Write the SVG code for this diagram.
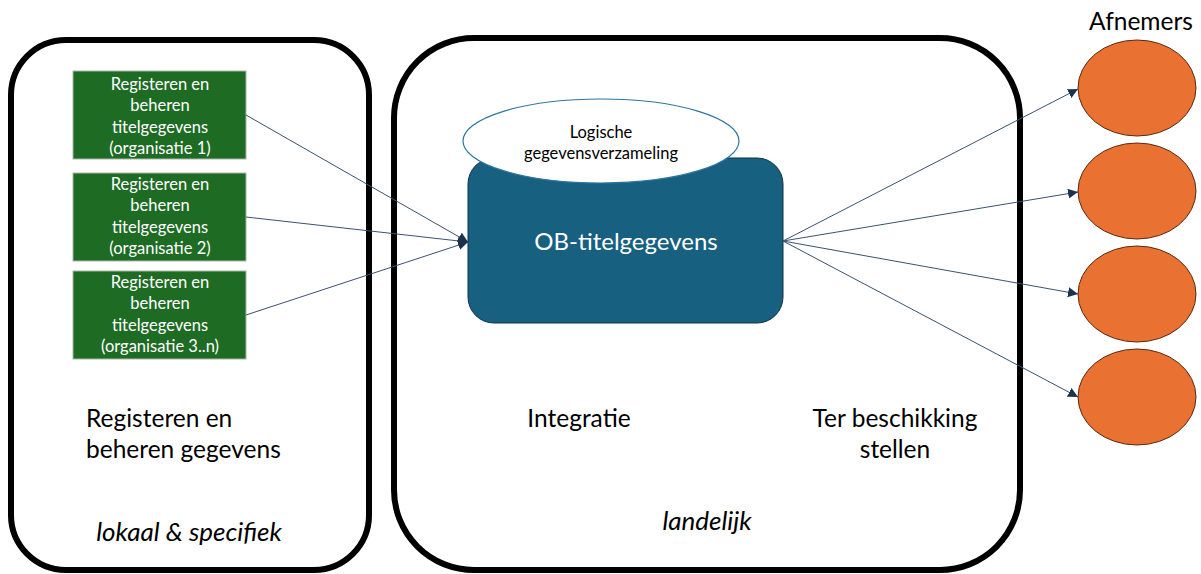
<svg xmlns="http://www.w3.org/2000/svg" width="1201" height="574" viewBox="0 0 1201 574">
<style>
.cont{fill:#fff;stroke:#000;stroke-width:6}
.green{fill:#1e6b24;stroke:#a9b8a6;stroke-width:1}
.gt{font-family:Lato,"Open Sans",sans-serif;font-size:16.5px;fill:#fff;text-anchor:middle}
.lbl{font-family:Lato,"Open Sans",sans-serif;font-size:24.5px;fill:#000}
.it{font-style:italic;font-size:26px}
.conn{stroke:#3b5170;stroke-width:1;fill:none}
.cons{fill:#e97132;stroke:#5a2a10;stroke-width:1}
</style>
<defs>
<marker id="arr" viewBox="0 0 10 10" refX="10" refY="5" markerWidth="10" markerHeight="10" markerUnits="userSpaceOnUse" orient="auto">
<path d="M0,0 L10,5 L0,10 z" fill="#1c3350"/>
</marker>
</defs>
<g id="container-local">
<rect class="cont" x="11" y="40" width="358" height="530" rx="55" ry="55"/>
<text class="lbl" x="86" y="427">Registeren en</text>
<text class="lbl" x="86" y="458">beheren gegevens</text>
<text class="lbl it" x="189" y="541" text-anchor="middle">lokaal &amp; specifiek</text>
</g>
<g id="container-national">
<rect class="cont" x="394" y="38" width="626" height="532" rx="80" ry="80"/>
<text class="lbl" x="579" y="427" text-anchor="middle">Integratie</text>
<text class="lbl" x="895" y="427" text-anchor="middle">Ter beschikking</text>
<text class="lbl" x="895" y="458" text-anchor="middle">stellen</text>
<text class="lbl it" x="707" y="530" text-anchor="middle">landelijk</text>
</g>
<g id="org1">
<rect class="green" x="73" y="71" width="173" height="88"/>
<text class="gt" x="160" y="90">Registeren en</text>
<text class="gt" x="160" y="111">beheren</text>
<text class="gt" x="160" y="133">titelgegevens</text>
<text class="gt" x="160" y="154">(organisatie 1)</text>
</g>
<g id="org2">
<rect class="green" x="73" y="173" width="173" height="88"/>
<text class="gt" x="160" y="190">Registeren en</text>
<text class="gt" x="160" y="211">beheren</text>
<text class="gt" x="160" y="233">titelgegevens</text>
<text class="gt" x="160" y="254">(organisatie 2)</text>
</g>
<g id="org3">
<rect class="green" x="73" y="271" width="173" height="88"/>
<text class="gt" x="160" y="288">Registeren en</text>
<text class="gt" x="160" y="309">beheren</text>
<text class="gt" x="160" y="331">titelgegevens</text>
<text class="gt" x="160" y="352">(organisatie 3..n)</text>
</g>
<g id="ob-titelgegevens">
<rect x="468" y="158" width="315" height="165" rx="26" ry="26" fill="#17607f" stroke="#0f3346" stroke-width="1"/>
<text x="626" y="250" text-anchor="middle" font-family="Lato,'Open Sans',sans-serif" font-size="24" fill="#fff">OB-titelgegevens</text>
</g>
<g id="logische">
<ellipse cx="601" cy="141" rx="138" ry="42" fill="#fff" stroke="#2e75a0" stroke-width="1.2"/>
<text x="601" y="138" text-anchor="middle" font-family="Lato,'Open Sans',sans-serif" font-size="16.5" fill="#000">Logische</text>
<text x="601" y="159" text-anchor="middle" font-family="Lato,'Open Sans',sans-serif" font-size="16.5" fill="#000">gegevensverzameling</text>
</g>
<g id="afnemers">
<text class="lbl" x="1141" y="30" text-anchor="middle" font-size="25.5">Afnemers</text>
<ellipse class="cons" cx="1137" cy="88" rx="59" ry="48"/>
<ellipse class="cons" cx="1137" cy="191" rx="59" ry="48"/>
<ellipse class="cons" cx="1137" cy="294" rx="59" ry="48"/>
<ellipse class="cons" cx="1137" cy="397" rx="59" ry="48"/>
</g>
<g id="connectors">
<line class="conn" x1="246" y1="115" x2="468" y2="242" marker-end="url(#arr)"/>
<line class="conn" x1="246" y1="217" x2="468" y2="242" marker-end="url(#arr)"/>
<line class="conn" x1="246" y1="315" x2="468" y2="242" marker-end="url(#arr)"/>
<line class="conn" x1="783" y1="241" x2="1078" y2="89" marker-end="url(#arr)"/>
<line class="conn" x1="783" y1="241" x2="1078" y2="192" marker-end="url(#arr)"/>
<line class="conn" x1="783" y1="241" x2="1078" y2="294" marker-end="url(#arr)"/>
<line class="conn" x1="783" y1="241" x2="1078" y2="397" marker-end="url(#arr)"/>
</g>
</svg>
